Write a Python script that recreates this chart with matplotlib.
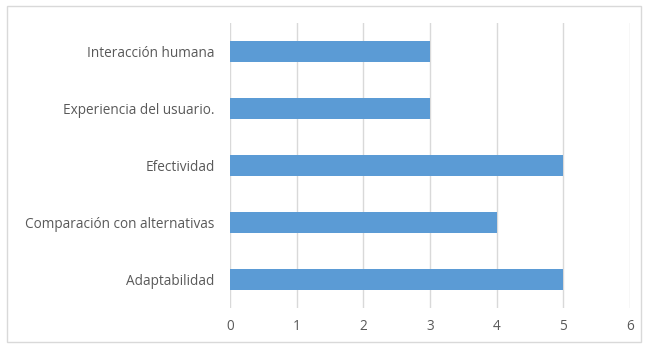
import matplotlib.pyplot as plt
from matplotlib.patches import Rectangle

categorias = ['Adaptabilidad', 'Comparación con alternativas', 'Efectividad',
              'Experiencia del usuario.', 'Interacción humana']
valores = [5, 4, 5, 3, 3]
ticks_x = [0, 1, 2, 3, 4, 5, 6]

plt.rcParams['font.family'] = ['Open Sans', 'DejaVu Sans']
plt.rcParams['font.size'] = 10

fig = plt.figure(figsize=(6.48, 3.47), dpi=100)
ax = fig.add_axes([0.355, 0.112, 0.617, 0.822])

ax.barh(categorias, valores, height=0.38, color='#5B9BD5', zorder=2)

ax.set_xlim(0, 6)
ax.set_ylim(-0.5, len(categorias) - 0.5)
ax.set_xticks(ticks_x)
ax.grid(axis='x', color='#D9D9D9', linewidth=1, zorder=0)
ax.tick_params(length=0, colors='#595959', labelsize=9.8)
ax.tick_params(axis='y', pad=11)
ax.tick_params(axis='x', pad=8)
for s in ax.spines.values():
    s.set_visible(False)

fig.patches.append(Rectangle((0.011, 0.015), 0.978, 0.968, transform=fig.transFigure,
                             fill=False, edgecolor='#D9D9D9', linewidth=1))

plt.savefig('out.png', dpi=100)
